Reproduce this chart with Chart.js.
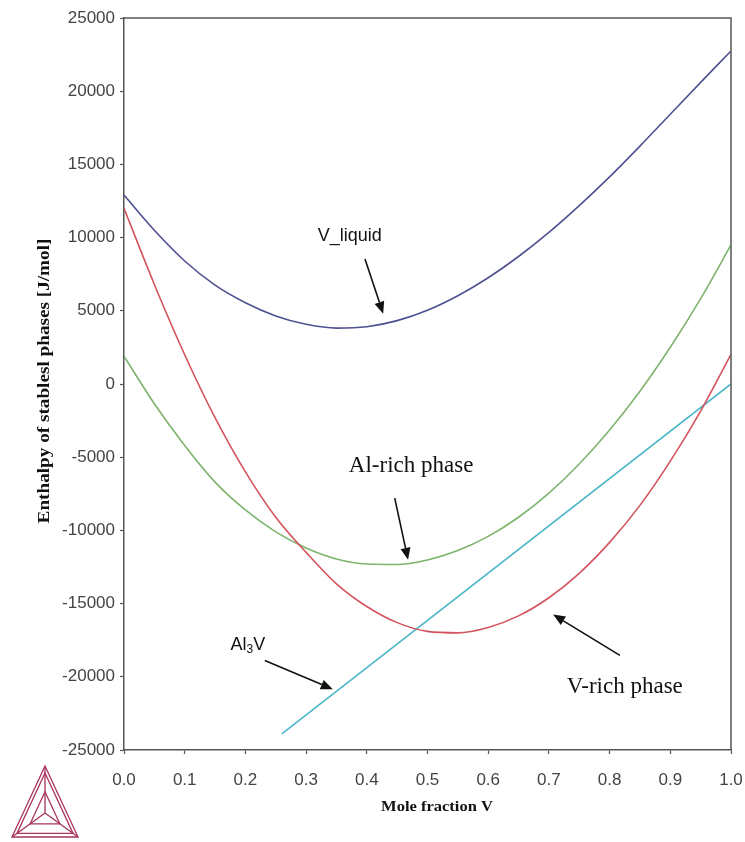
<!DOCTYPE html>
<html>
<head>
<meta charset="utf-8">
<script src="https://cdn.jsdelivr.net/npm/chart.js@4.4.1/dist/chart.umd.min.js"></script>
<style>
  html, body { margin: 0; padding: 0; background: #ffffff; }
  #wrap { position: relative; width: 745px; height: 842px; }
</style>
</head>
<body>
<div id="wrap"><canvas id="chart" width="745" height="842"></canvas></div>
<script>
// Mole fraction of V (shared sampling grid for the solution phases)
const moleFractionV = [0, 0.05, 0.1, 0.15, 0.2, 0.25, 0.3, 0.35, 0.4, 0.45, 0.5,
                       0.55, 0.6, 0.65, 0.7, 0.75, 0.8, 0.85, 0.9, 0.95, 1.0];

// Enthalpy curves, J/mol
const vLiquid = [12900, 10500, 8400, 6750, 5550, 4650, 4080, 3820, 3910, 4330, 5040,
                 6030, 7260, 8710, 10360, 12190, 14150, 16250, 18430, 20600, 22750];
const vRich   = [12000, 6800, 2000, -2300, -6000, -9100, -11500, -13650, -15200, -16300, -16900,
                 -17000, -16630, -15840, -14600, -12930, -10820, -8290, -5270, -1850, 2030];
const alRich  = [1900, -1350, -4200, -6700, -8600, -10100, -11200, -11950, -12300, -12330, -12020,
                 -11380, -10410, -9100, -7450, -5460, -3140, -490, 2510, 5830, 9500];

// Al3V compound line
const al3vX = [0.26, 1.0];
const al3vY = [-23900, 0];

// Axis ticks
const xTicks = [0, 0.1, 0.2, 0.3, 0.4, 0.5, 0.6, 0.7, 0.8, 0.9, 1.0];
const yTicks = [-25000, -20000, -15000, -10000, -5000, 0, 5000, 10000, 15000, 20000, 25000];

// Callout labels with arrows: text position and arrow start/end in data units
const callouts = [
  { text: 'V_liquid', font: '18px "Liberation Sans", Arial, sans-serif',
    tx: 0.372, ty: 10100, ax: 0.397, ay: 8540, bx: 0.427, by: 4800 },
  { text: 'Al-rich phase', font: '23px "Liberation Serif", "Times New Roman", serif',
    tx: 0.473, ty: -5610, ax: 0.446, ay: -7790, bx: 0.468, by: -12010 },
  { text: 'V-rich phase', font: '23px "Liberation Serif", "Times New Roman", serif',
    tx: 0.825, ty: -20720, ax: 0.817, ay: -18540, bx: 0.707, by: -15750 },
  { text: 'Al3V', sub: true, font: '18px "Liberation Sans", Arial, sans-serif',
    tx: 0.204, ty: -17860, ax: 0.232, ay: -18880, bx: 0.344, by: -20850 }
];

const pts = (xs, ys) => xs.map((x, i) => ({ x: x, y: ys[i] }));

const AXIS = '#555555';

function drawArrow(ctx, x1, y1, x2, y2) {
  const ang = Math.atan2(y2 - y1, x2 - x1);
  const head = 12, half = 5;
  const bx = x2 - head * Math.cos(ang), by = y2 - head * Math.sin(ang);
  ctx.beginPath();
  ctx.moveTo(x1, y1);
  ctx.lineTo(bx, by);
  ctx.lineWidth = 1.6;
  ctx.strokeStyle = '#111';
  ctx.stroke();
  ctx.beginPath();
  ctx.moveTo(x2, y2);
  ctx.lineTo(bx + half * Math.sin(ang), by - half * Math.cos(ang));
  ctx.lineTo(bx - half * Math.sin(ang), by + half * Math.cos(ang));
  ctx.closePath();
  ctx.fillStyle = '#111';
  ctx.fill();
}

function drawLogo(ctx) {
  // Thermo-Calc style triangle mark
  const top = [45, 766], bl = [12, 837], br = [78, 837];
  const c = [45, 813];
  ctx.save();
  ctx.strokeStyle = '#a8335f';
  ctx.lineWidth = 1.3;
  const tri = (a, b, d) => { ctx.beginPath(); ctx.moveTo(a[0], a[1]); ctx.lineTo(b[0], b[1]); ctx.lineTo(d[0], d[1]); ctx.closePath(); ctx.stroke(); };
  tri(top, bl, br);
  const shrink = (p, k) => [c[0] + (p[0] - c[0]) * k, c[1] + (p[1] - c[1]) * k];
  tri(shrink(top, 0.85), shrink(bl, 0.85), shrink(br, 0.85));
  tri(shrink(top, 0.45), shrink(bl, 0.45), shrink(br, 0.45));
  ctx.beginPath();
  [top, bl, br].forEach(p => { ctx.moveTo(c[0], c[1]); ctx.lineTo(p[0], p[1]); });
  ctx.stroke();
  ctx.restore();
}

// Draws text horizontally stretched by factor sx around its centre
function stretchedText(ctx, text, x, y, sx, rot) {
  ctx.save();
  ctx.translate(x, y);
  if (rot) ctx.rotate(rot);
  ctx.scale(sx, 1);
  ctx.fillText(text, 0, 0);
  ctx.restore();
}

const decorations = {
  id: 'decorations',
  afterDraw(chart) {
    const ctx = chart.ctx;
    const a = chart.chartArea;
    const xs = chart.scales.x, ys = chart.scales.y;
    ctx.save();
    // top and right frame lines
    ctx.strokeStyle = AXIS;
    ctx.lineWidth = 1.5;
    ctx.beginPath();
    ctx.moveTo(a.left, a.top);
    ctx.lineTo(a.right, a.top);
    ctx.lineTo(a.right, a.bottom);
    ctx.stroke();

    // axis titles
    ctx.fillStyle = '#111';
    ctx.textAlign = 'center';
    ctx.textBaseline = 'middle';
    ctx.font = 'bold 14px "Liberation Serif", "Times New Roman", serif';
    stretchedText(ctx, 'Mole fraction V', 437, 807, 1.18, 0);
    ctx.font = 'bold 16px "Liberation Serif", "Times New Roman", serif';
    stretchedText(ctx, 'Enthalpy of stablesl phases [J/mol]', 45, 381, 1.2, -Math.PI / 2);

    // callouts
    callouts.forEach(c => {
      ctx.font = c.font;
      ctx.fillStyle = '#111';
      ctx.textBaseline = 'middle';
      const tx = xs.getPixelForValue(c.tx), ty = ys.getPixelForValue(c.ty);
      if (c.sub) {
        const subFont = '12px "Liberation Sans", Arial, sans-serif';
        const w1 = ctx.measureText('Al').width;
        const w2 = ctx.measureText('V').width;
        ctx.font = subFont;
        const ws = ctx.measureText('3').width;
        const x0 = tx - (w1 + ws + w2) / 2;
        ctx.textAlign = 'left';
        ctx.font = c.font;
        ctx.fillText('Al', x0, ty);
        ctx.font = subFont;
        ctx.fillText('3', x0 + w1, ty + 4);
        ctx.font = c.font;
        ctx.fillText('V', x0 + w1 + ws, ty);
      } else {
        ctx.textAlign = 'center';
        ctx.fillText(c.text, tx, ty);
      }
      drawArrow(ctx, xs.getPixelForValue(c.ax), ys.getPixelForValue(c.ay),
                     xs.getPixelForValue(c.bx), ys.getPixelForValue(c.by));
    });

    drawLogo(ctx);
    ctx.restore();
  }
};

const lineStyle = { borderWidth: 1.6, pointRadius: 0, fill: false, cubicInterpolationMode: 'monotone' };

new Chart(document.getElementById('chart'), {
  type: 'line',
  data: {
    datasets: [
      Object.assign({ label: 'V_liquid', data: pts(moleFractionV, vLiquid), borderColor: '#4e5190' }, lineStyle),
      Object.assign({ label: 'V-rich phase', data: pts(moleFractionV, vRich), borderColor: '#d3545c' }, lineStyle),
      Object.assign({ label: 'Al-rich phase', data: pts(moleFractionV, alRich), borderColor: '#7db46c' }, lineStyle),
      Object.assign({ label: 'Al3V', data: pts(al3vX, al3vY), borderColor: '#4cb6c9' }, lineStyle)
    ]
  },
  options: {
    responsive: false,
    animation: false,
    devicePixelRatio: 1,
    layout: { padding: { left: 0, right: 0, top: 18, bottom: 0 } },
    plugins: { legend: { display: false }, tooltip: { enabled: false } },
    scales: {
      x: {
        type: 'linear',
        min: 0, max: 1,
        afterFit(scale) {
          scale.height = 92;
          scale.paddingLeft = 0;
          scale.paddingRight = 14;
        },
        afterBuildTicks(scale) { scale.ticks = xTicks.map(v => ({ value: v })); },
        ticks: {
          callback: v => Number(v).toFixed(1),
          font: { family: '"Liberation Sans", Arial, sans-serif', size: 17 },
          color: '#444',
          padding: 16,
          maxRotation: 0
        },
        grid: { display: true, drawOnChartArea: false, drawTicks: true, tickLength: 4, color: AXIS, tickWidth: 1.2 },
        border: { display: true, color: AXIS, width: 1.5 }
      },
      y: {
        type: 'linear',
        min: -25000, max: 25000,
        afterFit(scale) {
          scale.width = 124;
          scale.paddingTop = 0;
          scale.paddingBottom = 0;
        },
        afterBuildTicks(scale) { scale.ticks = yTicks.map(v => ({ value: v })); },
        ticks: {
          callback: v => String(v),
          font: { family: '"Liberation Sans", Arial, sans-serif', size: 17 },
          color: '#444',
          padding: 5
        },
        grid: { display: true, drawOnChartArea: false, drawTicks: true, tickLength: 4, color: AXIS, tickWidth: 1.2 },
        border: { display: true, color: AXIS, width: 1.5 }
      }
    }
  },
  plugins: [decorations]
});
</script>
</body>
</html>
